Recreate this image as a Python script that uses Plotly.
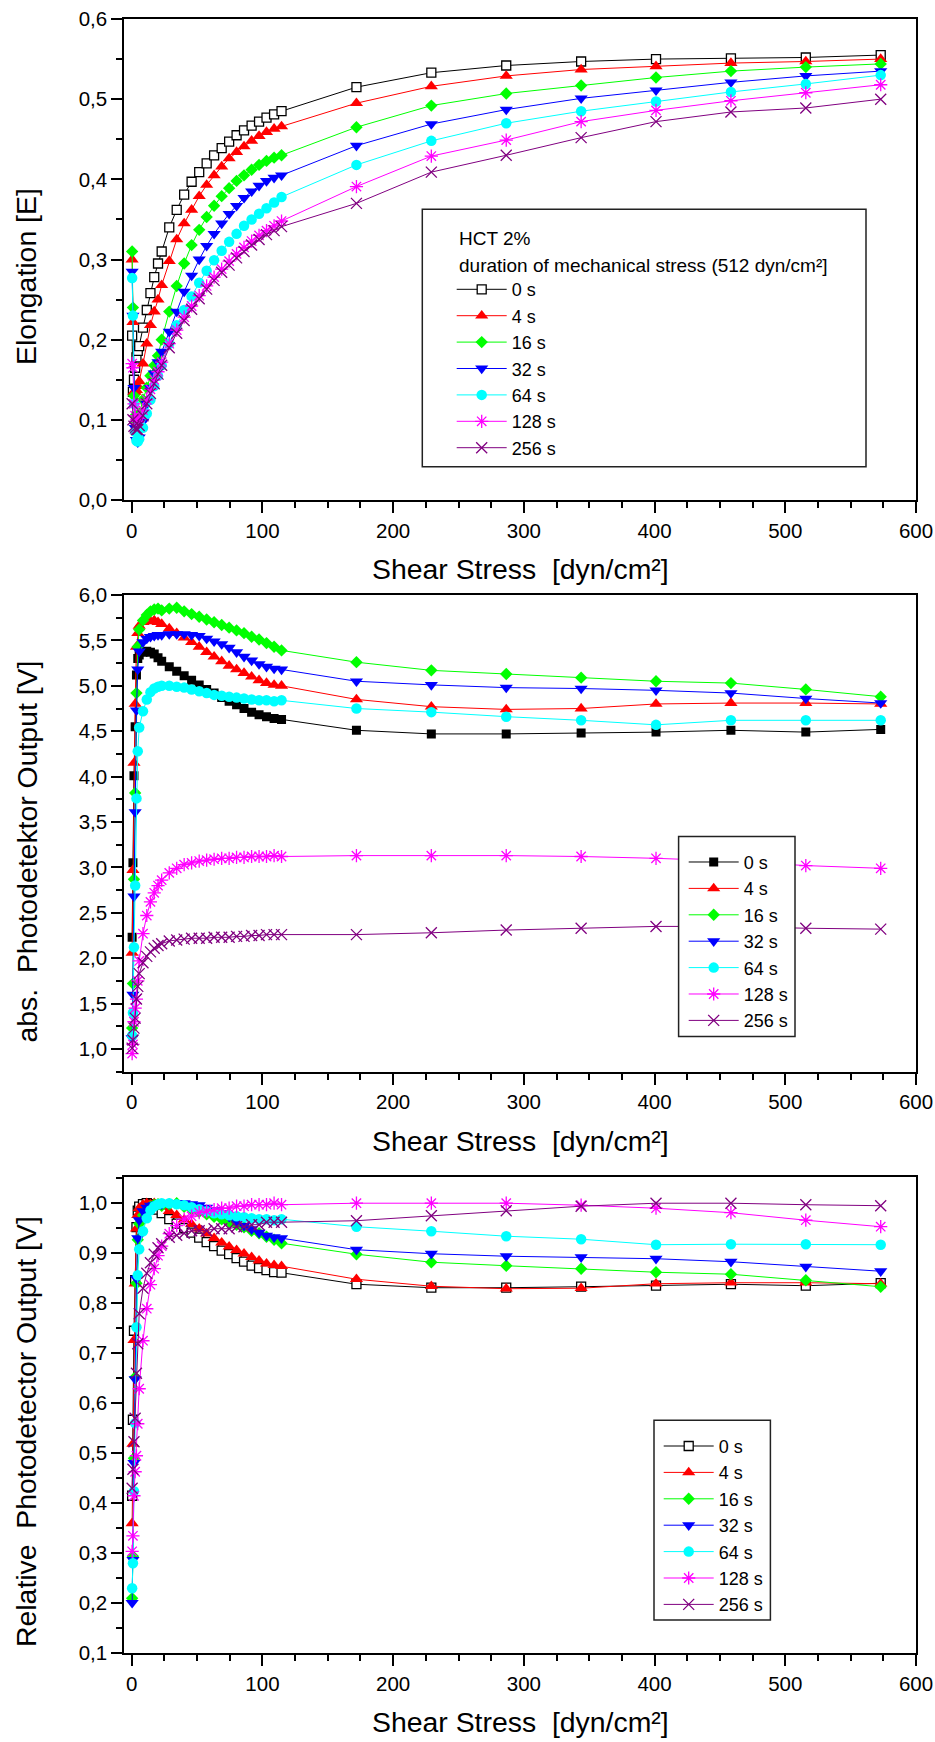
import plotly.graph_objects as go

W, H = 935, 1742
FONT = "Liberation Sans, Arial, sans-serif"

# ---------------- data ----------------
shear = [0.3, 0.9, 1.7, 2.6, 3.6, 4.6, 5.7, 8.6, 11.5, 14.3, 17.2, 20.1, 22.9,
         28.7, 34.4, 40.1, 45.8, 51.6, 57.3, 63.0, 68.8, 74.5, 80.2, 85.9, 91.7,
         97.4, 103.1, 108.9, 114.6, 171.9, 229.2, 286.5, 343.8, 401.1, 458.4,
         515.7, 573.0]

durations = ["0 s", "4 s", "16 s", "32 s", "64 s", "128 s", "256 s"]

# Panel 1 : Elongation
elong_0s = [0.205, 0.135, 0.15, 0.165, 0.178, 0.186, 0.192, 0.215, 0.237, 0.258, 0.278, 0.295, 0.31,
            0.34, 0.362, 0.381, 0.397, 0.409, 0.42, 0.43, 0.439, 0.447, 0.455, 0.461, 0.467, 0.472,
            0.477, 0.481, 0.485, 0.515, 0.533, 0.542, 0.547, 0.550, 0.551, 0.552, 0.555]
elong_4s = [0.30, 0.222, 0.135, 0.135, 0.137, 0.142, 0.148, 0.17, 0.195, 0.218, 0.235, 0.25, 0.268,
            0.298, 0.325, 0.345, 0.362, 0.379, 0.393, 0.405, 0.416, 0.426, 0.434, 0.441, 0.448, 0.454,
            0.459, 0.463, 0.466, 0.495, 0.516, 0.529, 0.537, 0.541, 0.545, 0.547, 0.550]
elong_16s = [0.31, 0.24, 0.13, 0.105, 0.098, 0.10, 0.108, 0.125, 0.14, 0.155, 0.168, 0.18, 0.20,
             0.235, 0.267, 0.295, 0.318, 0.337, 0.353, 0.367, 0.379, 0.389, 0.398, 0.405, 0.412, 0.418,
             0.423, 0.427, 0.43, 0.465, 0.492, 0.507, 0.517, 0.527, 0.535, 0.540, 0.544]
elong_32s = [0.285, 0.23, 0.14, 0.09, 0.075, 0.072, 0.078, 0.098, 0.12, 0.14, 0.158, 0.172, 0.185,
             0.21, 0.235, 0.26, 0.28, 0.30, 0.317, 0.332, 0.345, 0.357, 0.367, 0.377, 0.385, 0.392,
             0.398, 0.402, 0.405, 0.442, 0.469, 0.487, 0.501, 0.511, 0.521, 0.529, 0.535]
elong_64s = [0.277, 0.23, 0.12, 0.085, 0.074, 0.073, 0.076, 0.09, 0.108, 0.125, 0.142, 0.155, 0.168,
             0.195, 0.218, 0.237, 0.254, 0.271, 0.286, 0.299, 0.311, 0.322, 0.332, 0.342, 0.35, 0.357,
             0.364, 0.371, 0.378, 0.418, 0.448, 0.470, 0.485, 0.497, 0.509, 0.519, 0.530]
elong_128s = [0.17, 0.165, 0.12, 0.105, 0.10, 0.098, 0.102, 0.112, 0.125, 0.138, 0.15, 0.16, 0.172,
              0.195, 0.212, 0.228, 0.242, 0.255, 0.267, 0.278, 0.288, 0.298, 0.307, 0.315, 0.323, 0.330,
              0.336, 0.342, 0.348, 0.391, 0.429, 0.449, 0.472, 0.486, 0.498, 0.508, 0.518]
elong_256s = [0.12, 0.10, 0.092, 0.09, 0.088, 0.088, 0.093, 0.105, 0.12, 0.133, 0.145, 0.157, 0.168,
              0.19, 0.208, 0.224, 0.238, 0.251, 0.263, 0.274, 0.284, 0.293, 0.302, 0.31, 0.318, 0.325,
              0.331, 0.336, 0.341, 0.370, 0.409, 0.430, 0.452, 0.472, 0.484, 0.489, 0.500]

# Panel 2 : absolute photodetector output [V]
abs_0s = [2.23, 3.05, 4.01, 4.55, 5.12, 5.30, 5.34, 5.37, 5.38, 5.37, 5.35, 5.31, 5.27,
          5.21, 5.16, 5.11, 5.06, 5.01, 4.96, 4.92, 4.87, 4.83, 4.79, 4.75, 4.71, 4.68, 4.66, 4.64, 4.63,
          4.51, 4.47, 4.47, 4.48, 4.49, 4.51, 4.49, 4.52]
abs_4s = [2.06, 2.97, 4.15, 4.80, 5.43, 5.58, 5.66, 5.70, 5.72, 5.71, 5.72, 5.70, 5.68,
          5.63, 5.58, 5.53, 5.48, 5.43, 5.37, 5.32, 5.27, 5.22, 5.18, 5.14, 5.10, 5.06, 5.03, 5.01, 5.00,
          4.85, 4.77, 4.74, 4.75, 4.80, 4.81, 4.81, 4.80]
abs_16s = [1.23, 1.72, 2.87, 3.82, 4.92, 5.43, 5.62, 5.72, 5.78, 5.82, 5.84, 5.85, 5.83,
           5.85, 5.86, 5.82, 5.79, 5.76, 5.73, 5.70, 5.67, 5.64, 5.61, 5.58, 5.54, 5.51, 5.47, 5.43, 5.39,
           5.26, 5.17, 5.13, 5.09, 5.05, 5.03, 4.96, 4.88]
abs_32s = [1.12, 1.60, 2.68, 3.61, 4.73, 5.18, 5.38, 5.48, 5.52, 5.54, 5.55, 5.56, 5.56,
           5.57, 5.57, 5.57, 5.56, 5.55, 5.52, 5.49, 5.46, 5.42, 5.37, 5.32, 5.28, 5.24, 5.21, 5.19, 5.18,
           5.05, 5.01, 4.98, 4.97, 4.95, 4.92, 4.86, 4.81]
abs_64s = [1.15, 1.40, 2.12, 2.80, 3.76, 4.28, 4.54, 4.72, 4.85, 4.93, 4.97, 4.99, 5.00,
           5.00, 4.99, 4.98, 4.96, 4.94, 4.92, 4.90, 4.89, 4.88, 4.87, 4.86, 4.85, 4.84, 4.84, 4.83, 4.84,
           4.75, 4.71, 4.66, 4.62, 4.57, 4.62, 4.62, 4.62]
abs_128s = [0.95, 1.05, 1.30, 1.45, 1.55, 1.75, 1.97, 2.27, 2.47, 2.62, 2.72, 2.80, 2.86,
            2.94, 2.99, 3.03, 3.05, 3.07, 3.08, 3.09, 3.10, 3.10, 3.11, 3.11, 3.12, 3.12, 3.12, 3.13, 3.12,
            3.13, 3.13, 3.13, 3.12, 3.10, 3.07, 3.02, 2.99]
abs_256s = [1.01, 1.10, 1.23, 1.34, 1.55, 1.69, 1.83, 1.95, 2.02, 2.07, 2.11, 2.14, 2.16,
            2.19, 2.20, 2.21, 2.22, 2.22, 2.22, 2.23, 2.23, 2.23, 2.24, 2.24, 2.25, 2.25, 2.26, 2.26, 2.26,
            2.26, 2.28, 2.31, 2.33, 2.35, 2.35, 2.33, 2.32]

# Panel 3 : relative photodetector output
rel_0s = [0.415, 0.567, 0.745, 0.846, 0.952, 0.985, 0.993, 0.998, 1.0, 0.998, 0.994, 0.987, 0.98,
          0.968, 0.959, 0.95, 0.941, 0.931, 0.922, 0.914, 0.905, 0.898, 0.89, 0.883, 0.875, 0.87, 0.866,
          0.862, 0.861, 0.838, 0.831, 0.831, 0.833, 0.835, 0.838, 0.835, 0.84]
rel_4s = [0.36, 0.519, 0.726, 0.839, 0.949, 0.976, 0.99, 0.997, 1.0, 0.998, 1.0, 0.997, 0.993,
          0.984, 0.976, 0.967, 0.958, 0.949, 0.939, 0.93, 0.921, 0.913, 0.906, 0.899, 0.892, 0.885, 0.879,
          0.876, 0.874, 0.848, 0.834, 0.829, 0.83, 0.839, 0.841, 0.841, 0.839]
rel_16s = [0.21, 0.294, 0.49, 0.652, 0.84, 0.927, 0.959, 0.976, 0.986, 0.993, 0.997, 0.998, 0.995,
           0.998, 1.0, 0.993, 0.988, 0.983, 0.978, 0.973, 0.968, 0.962, 0.957, 0.952, 0.945, 0.94, 0.933,
           0.927, 0.92, 0.898, 0.882, 0.875, 0.869, 0.862, 0.858, 0.846, 0.833]
rel_32s = [0.201, 0.287, 0.481, 0.648, 0.849, 0.93, 0.966, 0.984, 0.991, 0.995, 0.996, 0.998, 0.998,
           1.0, 1.0, 1.0, 0.998, 0.996, 0.991, 0.986, 0.98, 0.973, 0.964, 0.955, 0.948, 0.941, 0.935,
           0.932, 0.93, 0.907, 0.899, 0.894, 0.892, 0.889, 0.883, 0.873, 0.864]
rel_64s = [0.23, 0.28, 0.424, 0.56, 0.752, 0.856, 0.908, 0.944, 0.97, 0.986, 0.994, 0.998, 1.0,
           1.0, 0.998, 0.996, 0.992, 0.988, 0.984, 0.98, 0.978, 0.976, 0.974, 0.972, 0.97, 0.968, 0.968,
           0.966, 0.968, 0.953, 0.944, 0.934, 0.928, 0.917, 0.918, 0.918, 0.917]
rel_128s = [0.304, 0.335, 0.415, 0.463, 0.495, 0.559, 0.629, 0.725, 0.789, 0.837, 0.869, 0.895, 0.914,
            0.939, 0.955, 0.968, 0.974, 0.981, 0.984, 0.987, 0.99, 0.99, 0.994, 0.994, 0.997, 0.997, 0.997,
            1.0, 0.997, 1.0, 1.0, 1.0, 0.996, 0.99, 0.981, 0.966, 0.953]
rel_256s = [0.43, 0.468, 0.523, 0.57, 0.66, 0.719, 0.779, 0.83, 0.86, 0.881, 0.898, 0.911, 0.919,
            0.932, 0.936, 0.94, 0.945, 0.945, 0.945, 0.949, 0.949, 0.949, 0.953, 0.953, 0.957, 0.957, 0.962,
            0.962, 0.962, 0.965, 0.975, 0.985, 0.994, 1.0, 1.0, 0.997, 0.995]

panel1 = [elong_0s, elong_4s, elong_16s, elong_32s, elong_64s, elong_128s, elong_256s]
panel2 = [abs_0s, abs_4s, abs_16s, abs_32s, abs_64s, abs_128s, abs_256s]
panel3 = [rel_0s, rel_4s, rel_16s, rel_32s, rel_64s, rel_128s, rel_256s]

# ---------------- styles ----------------
colors = ["#000000", "#FF0000", "#00FF00", "#0000FF", "#00FFFF", "#FF00FF", "#800080"]
symbols = ["square", "triangle-up", "diamond", "triangle-down", "circle", "asterisk-open", "x-thin-open"]
sizes = [9, 11.5, 9.5, 11.5, 10.5, 11, 11]


def px_x(p):
    return p / W


def px_y(p):
    return 1 - p / H


def marker_for(i, filled_square=False):
    c = colors[i]
    if i == 0:
        if filled_square:
            return dict(symbol="square", size=sizes[i], color="black", line=dict(color="black", width=0))
        return dict(symbol="square", size=sizes[i], color="white", line=dict(color="black", width=1.3))
    if i >= 5:
        return dict(symbol=symbols[i], size=sizes[i], color=c, line=dict(color=c, width=1.3))
    return dict(symbol=symbols[i], size=sizes[i], color=c, line=dict(color=c, width=0))


fig = go.Figure()

panels = [(panel1, "x", "y", "legend", False),
          (panel2, "x2", "y2", "legend2", True),
          (panel3, "x3", "y3", "legend3", False)]

for data, xa, ya, lg, filled in panels:
    for i, ys in enumerate(data):
        fig.add_trace(go.Scatter(
            x=shear, y=ys, mode="lines+markers", name=durations[i],
            line=dict(color=colors[i], width=1),
            marker=marker_for(i, filled),
            xaxis=xa, yaxis=ya, legend=lg, showlegend=True,
        ))

xdom = [px_x(124.3), px_x(916)]
dom1 = [px_y(500), px_y(19)]
dom2 = [px_y(1071.7), px_y(595)]
dom3 = [px_y(1653.3), px_y(1176.7)]

tickfont = dict(family=FONT, size=20.5, color="black")


def xaxis_cfg(anchor):
    return dict(domain=xdom, anchor=anchor, range=[-5.7, 600], dtick=100, tick0=0,
                showline=True, linecolor="black", linewidth=2, mirror=True,
                ticks="outside", ticklen=11, tickwidth=2, tickcolor="black",
                showgrid=False, zeroline=False, tickfont=tickfont, automargin=False,
                minor=dict(ticks="outside", ticklen=6, tickwidth=2, tickcolor="black", dtick=25, tick0=0))


def yaxis_cfg(anchor, dom, rng, dtick, mdtick):
    return dict(domain=dom, anchor=anchor, range=rng, dtick=dtick, tick0=0, tickformat=".1f",
                showline=True, linecolor="black", linewidth=2, mirror=True,
                ticks="outside", ticklen=11, tickwidth=2, tickcolor="black",
                showgrid=False, zeroline=False, tickfont=tickfont, automargin=False,
                minor=dict(ticks="outside", ticklen=6, tickwidth=2, tickcolor="black", dtick=mdtick, tick0=0))


legend_font = dict(family=FONT, size=18, color="black")


def legend_cfg(left, top):
    return dict(x=px_x(left), y=px_y(top), xanchor="left", yanchor="top",
                bgcolor="rgba(0,0,0,0)", borderwidth=0, font=legend_font,
                itemwidth=50, tracegroupgap=0)


title_font = dict(family=FONT, size=28.4, color="black")

annotations = []
for yc in (569, 1140.5, 1722):
    annotations.append(dict(text="Shear Stress  [dyn/cm²]", x=px_x(520), y=px_y(yc),
                            xref="paper", yref="paper", showarrow=False,
                            xanchor="center", yanchor="middle", font=title_font))
for txt, yc in (("Elongation [E]", 277), ("abs.  Photodetektor Output [V]", 851.5),
                ("Relative  Photodetector Output [V]", 1432)):
    annotations.append(dict(text=txt, x=px_x(26), y=px_y(yc), xref="paper", yref="paper",
                            showarrow=False, textangle=-90, xanchor="center", yanchor="middle",
                            font=title_font))
leg_title_font = dict(family=FONT, size=19, color="black")
for txt, yc in (("HCT 2%", 239), ("duration of mechanical stress (512 dyn/cm²]", 265)):
    annotations.append(dict(text=txt, x=px_x(456.7), y=px_y(yc), xref="paper", yref="paper",
                            showarrow=False, xanchor="left", yanchor="middle", font=leg_title_font))

shapes = []
for (x0, x1, y0, y1) in ((422.3, 866, 209.3, 466.7), (678.6, 795, 836.4, 1036.4), (654, 770.4, 1420.3, 1620)):
    shapes.append(dict(type="rect", xref="paper", yref="paper", x0=px_x(x0), x1=px_x(x1),
                       y0=px_y(y1), y1=px_y(y0), line=dict(color="#222222", width=1.5),
                       fillcolor="white", layer="above"))

fig.update_layout(
    width=W, height=H, margin=dict(l=0, r=0, t=0, b=0, pad=0, autoexpand=False),
    paper_bgcolor="white", plot_bgcolor="white",
    separators=",.",
    font=dict(family=FONT, color="black"),
    xaxis=xaxis_cfg("y"), xaxis2=xaxis_cfg("y2"), xaxis3=xaxis_cfg("y3"),
    yaxis=yaxis_cfg("x", dom1, [0, 0.6], 0.1, 0.05),
    yaxis2=yaxis_cfg("x2", dom2, [0.75, 6.0], 0.5, 0.25),
    yaxis3=yaxis_cfg("x3", dom3, [0.1, 1.053], 0.1, 0.05),
    legend=legend_cfg(451.7, 271.1),
    legend2=legend_cfg(683.7, 843.8),
    legend3=legend_cfg(658.7, 1427.8),
    annotations=annotations,
    shapes=shapes,
)

fig.write_html("out.html")
